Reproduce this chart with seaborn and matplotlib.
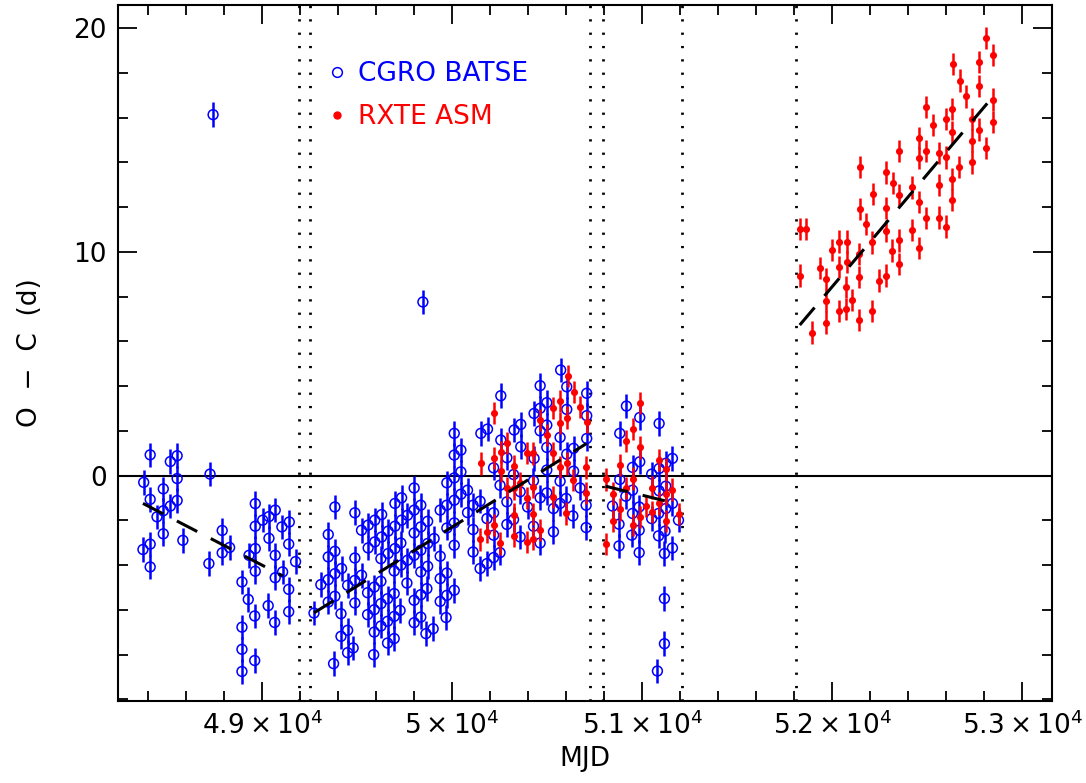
import matplotlib
matplotlib.use("Agg")
import matplotlib.pyplot as plt
from matplotlib.lines import Line2D
from matplotlib.ticker import FixedLocator, MultipleLocator, FuncFormatter
import pandas as pd
import seaborn as sns

# ---------------------------------------------------------------
# CGRO BATSE timings (MJD, O - C in days)
# ---------------------------------------------------------------
batse_mjd = [
    48377, 48411, 48411, 48373, 48411, 48411, 48447, 48480, 48480, 48480,
    48517, 48517, 48553, 48553, 48553, 48583, 48726, 48720, 48742, 48790,
    48790, 48829, 48894, 48894, 48894, 48894, 48927, 48931, 48964, 48964,
    48964, 48964, 48961, 48961, 49003, 49036, 49036, 49032, 49069, 49069,
    49069, 49066, 49104, 49108, 49143, 49140, 49140, 49140, 49176,
    49273, 49309, 49348, 49348, 49348, 49348, 49376, 49383, 49383, 49383,
    49383, 49418, 49415, 49415, 49450, 49450, 49450, 49479, 49488, 49488,
    49488, 49488, 49523, 49523, 49558, 49558, 49555, 49555, 49593, 49593,
    49590, 49590, 49590, 49587, 49629, 49629, 49625, 49625, 49625, 49625,
    49663, 49663, 49660, 49660, 49660, 49699, 49699, 49699, 49695, 49695,
    49695, 49695, 49734, 49734, 49730, 49730, 49726, 49765, 49765, 49762,
    49800, 49800, 49800, 49800, 49800, 49800, 49835, 49835, 49835, 49835,
    49835, 49835, 49846, 49871, 49871, 49871, 49867, 49862, 49900, 49905,
    49937, 49937, 49937, 49937, 49972, 49972, 49972, 49972, 49972, 49968,
    50011, 50011, 50011, 50011, 50011, 50011, 50011,
    50046, 50046, 50046, 50081, 50081, 50110, 50110, 50110, 50151, 50147,
    50147, 50186, 50183, 50183, 50218, 50218, 50218, 50218, 50256, 50256,
    50252, 50252, 50288, 50288, 50288, 50326, 50323, 50323, 50361, 50361,
    50358, 50358, 50397, 50431, 50431, 50428, 50428, 50463, 50463, 50463,
    50463, 50463, 50498, 50498, 50498, 50498, 50498, 50533, 50533, 50568,
    50568, 50568, 50571, 50603, 50603, 50603, 50600, 50639, 50639, 50635,
    50673, 50708, 50708, 50708, 50705, 50705,
    50917, 50882, 50882, 50878, 50878, 50844, 50914, 50949, 50949, 50949,
    50945, 50987, 50987, 50984, 50984, 50984, 51050, 51050, 51089, 51089,
    51089, 51086, 51086, 51080, 51124, 51124, 51124, 51120, 51117, 51117,
    51117, 51159, 51159, 51159, 51191,
]
batse_oc = [
    -0.30, 0.93, -1.06, -3.30, -3.06, -4.08, -1.84, -0.59, -1.57, -2.60,
    0.63, -1.36, 0.89, -0.13, -1.11, -2.89, 0.07, -3.93, 16.13, -2.45,
    -3.45, -3.21, -4.75, -6.77, -7.76, -8.75, -5.53, -3.56, -1.25, -2.26,
    -3.26, -4.27, -6.27, -8.26, -1.99, -1.83, -2.80, -5.81, -1.54, -3.56,
    -4.56, -6.56, -2.29, -4.30, -2.07, -3.06, -5.08, -6.08, -3.84,
    -6.14, -4.87, -2.63, -3.63, -4.65, -5.65, -8.40, -1.40, -3.38, -4.38,
    -5.39, -4.15, -6.17, -7.18, -4.90, -6.91, -7.91, -7.70, -1.66, -3.68,
    -4.68, -5.69, -2.44, -4.45, -2.21, -3.23, -5.23, -6.21, -1.99, -2.96,
    -4.98, -5.99, -6.99, -8.00, -1.74, -2.74, -3.71, -4.72, -5.72, -6.72,
    -2.48, -3.48, -5.50, -6.51, -7.48, -1.24, -2.26, -3.26, -4.26, -5.27,
    -6.29, -7.28, -0.99, -1.99, -3.01, -4.00, -6.02, -1.77, -3.78, -4.80,
    -0.55, -1.54, -2.56, -3.56, -5.57, -6.57, -1.32, -2.29, -3.33, -4.30,
    -5.32, -6.32, 7.76, -2.04, -3.03, -4.05, -5.05, -7.06, -6.84, -2.81,
    -1.54, -3.60, -4.60, -5.62, -0.32, -1.32, -2.34, -4.35, -5.35, -6.34,
    1.89, 0.92, -0.10, -1.10, -2.11, -3.11, -5.12,
    1.14, 0.17, -0.83, -0.65, -1.65, -1.32, -2.41, -3.41, 1.89, -1.14,
    -4.15, 2.08, -1.92, -3.93, -1.66, -2.66, -3.66, 0.35, 3.57, 1.59,
    -0.43, -3.44, 0.80, -1.17, -2.18, 2.04, 0.05, -1.96, 2.29, 1.29,
    -0.72, -2.74, -1.40, 2.78, 0.77, -0.23, -2.26, 4.02, 3.01, 2.00,
    -0.99, -3.01, 3.26, 2.26, 1.26, 0.25, -0.77, -2.51, -1.47, -0.25,
    -1.24, 1.71, 4.72, 3.97, 2.96, 0.96, -1.02, 1.22, 0.20, -1.80,
    -0.55, 3.68, 2.68, 1.66, -1.32, -2.32,
    3.11, 1.89, -0.17, -2.17, -3.14, -1.36, -0.92, 0.37, -0.65, -1.69,
    -2.66, 2.60, 0.62, -1.40, -2.44, -3.44, 0.07, -1.92, 2.33, 0.32,
    -0.68, -1.69, -2.69, -8.73, 0.55, -0.47, -1.47, -2.48, -3.48, -5.49,
    -7.51, 0.77, -1.24, -3.23, -1.99,
]

# ---------------------------------------------------------------
# RXTE ASM timings (MJD, O - C in days)
# ---------------------------------------------------------------
asm_mjd = [
    50151, 50147, 50183, 50221, 50221, 50218, 50252, 50256, 50256, 50291,
    50291, 50323, 50323, 50323, 50323, 50358, 50393, 50393, 50393, 50428,
    50428, 50428, 50428, 50463, 50463, 50498, 50533, 50533, 50533, 50568,
    50568, 50568, 50607, 50603, 50603, 50600, 50639, 50635, 50673, 50708,
    50705, 50705,
    50807, 50807, 50844, 50844, 50882, 50882, 50917, 50914, 50952, 50952,
    50952, 50987, 50987, 50987, 51019, 51054, 51054, 51089, 51089, 51124,
    51124, 51124, 51159, 51194,
    51829, 51864, 51829, 51896, 51934, 51966, 51966, 51966, 52001, 52036,
    52036, 52036, 52075, 52075, 52071, 52071, 52106, 52144, 52144, 52141,
    52141, 52141, 52180, 52214, 52211, 52208, 52246, 52285, 52285, 52281,
    52281, 52320, 52316, 52351, 52351, 52351, 52351,
    52422, 52422, 52456, 52456, 52456, 52456, 52492, 52492, 52495, 52530,
    52561, 52561, 52561, 52597, 52597, 52597, 52632, 52632, 52632, 52632,
    52635, 52670, 52667, 52706, 52737, 52737, 52737, 52772, 52772, 52772,
    52807, 52811, 52846, 52846, 52846,
]
asm_oc = [
    0.55, -2.85, -2.51, 2.81, 0.80, -2.21, -3.03, 1.06, 0.20, 1.47,
    -0.55, 0.44, -0.57, -1.74, -2.69, -0.35, 1.02, -0.99, -2.96, 0.99,
    -0.50, -1.72, -2.81, 2.48, -2.44, 1.81, 3.01, 0.99, -0.95, 3.33,
    2.36, 0.39, 4.45, 2.59, 0.55, -1.69, 3.75, -0.20, 3.08, 2.41,
    0.37, -0.77,
    -0.17, -3.06, -0.80, -2.02, 0.47, -1.51, 1.54, -0.55, 2.08, -0.13,
    -2.21, 3.26, 1.26, -1.84, -1.36, -0.53, -1.62, 0.69, -1.24, 0.28,
    -0.80, -2.02, -0.62, -1.72,
    11.02, 11.02, 8.94, 6.39, 9.27, 8.78, 7.82, 6.84, 10.09, 10.46,
    9.32, 7.37, 10.46, 9.54, 8.42, 7.44, 7.85, 13.79, 11.92, 9.90,
    8.87, 6.96, 11.25, 12.58, 10.42, 7.36, 8.72, 13.55, 11.96, 10.94,
    8.94, 13.07, 10.06, 14.52, 12.55, 10.51, 9.45,
    12.88, 10.98, 15.09, 14.19, 12.22, 10.17, 14.52, 11.51, 16.46, 15.68,
    14.42, 13.00, 11.53, 15.95, 14.22, 11.13, 16.39, 15.34, 13.25, 12.33,
    18.40, 17.65, 13.79, 16.95, 15.95, 14.97, 14.00, 18.49, 17.40, 15.46,
    14.64, 19.56, 18.81, 16.80, 15.79,
]

batse_err = 0.55
asm_err = 0.5

# linear ephemeris fits per interval: (start MJD, end MJD, start O-C, end O-C)
fit_start = [48373, 49273, 50807, 51829]
fit_end = [49109, 50708, 51194, 52837]
fit_oc_start = [-1.24, -6.13, -0.47, 6.73]
fit_oc_end = [-4.48, 1.44, -1.28, 16.85]

# interval boundaries
boundaries = [49192, 49253, 50723, 50794, 51208, 51808]

batse = pd.DataFrame({"MJD": batse_mjd, "OC": batse_oc})
asm = pd.DataFrame({"MJD": asm_mjd, "OC": asm_oc})

sns.set_style("ticks")
plt.rcParams["font.family"] = ["DejaVu Sans"]
plt.rcParams["mathtext.fontset"] = "dejavusans"

fig = plt.figure(figsize=(10.86, 7.83), dpi=100)
ax = fig.add_axes([0.1087, 0.105, 0.8603, 0.8886])

blue = "#0000ff"
red = "#ff0000"

ax.axhline(0, color="black", lw=1.5, zorder=1)
for b in boundaries:
    ax.axvline(b, color="black", lw=2.0, ls=(0, (0.8, 4.0)), zorder=1)

ax.errorbar(batse["MJD"], batse["OC"], yerr=batse_err, fmt="none",
            ecolor=blue, elinewidth=1.8, capsize=0, zorder=2)
sns.scatterplot(data=batse, x="MJD", y="OC", ax=ax, marker="o",
                s=50, facecolor="none", edgecolor=blue, linewidth=1.1,
                zorder=3)
ax.errorbar(asm["MJD"], asm["OC"], yerr=asm_err, fmt="none",
            ecolor=red, elinewidth=1.8, capsize=0, zorder=4)
sns.scatterplot(data=asm, x="MJD", y="OC", ax=ax, marker="o",
                s=26, color=red, edgecolor=red, linewidth=0, zorder=5)

for x0, x1, y0, y1 in zip(fit_start, fit_end, fit_oc_start, fit_oc_end):
    ax.plot([x0, x1], [y0, y1], color="black", lw=2.2,
            ls=(0, (7.5, 5)), zorder=6)

ax.set_xlim(48242, 53158)
ax.set_ylim(-10.06, 21.03)

ax.xaxis.set_major_locator(FixedLocator([49000, 50000, 51000, 52000, 53000]))
ax.xaxis.set_minor_locator(MultipleLocator(200))
ax.xaxis.set_major_formatter(FuncFormatter(
    lambda v, p: r"$%g\times10^{4}$" % (v / 1e4)))
ax.yaxis.set_major_locator(FixedLocator([0, 10, 20]))
ax.yaxis.set_minor_locator(MultipleLocator(2))

ax.tick_params(which="both", direction="in", top=True, right=True,
               width=1.3, colors="black", labelsize=19, pad=8)
ax.tick_params(which="major", length=14)
ax.tick_params(which="minor", length=7)
for sp in ax.spines.values():
    sp.set_linewidth(1.5)
    sp.set_color("black")

ax.set_xlabel("MJD", fontsize=19, labelpad=4, color="black")
ax.set_ylabel("O  −  C  (d)", fontsize=19, labelpad=22, color="black")

handles = [
    Line2D([], [], ls="none", marker="o", markersize=7, mfc="none",
           mec=blue, mew=1.1, color=blue),
    Line2D([], [], ls="none", marker="o", markersize=5, mfc=red,
           mec=red, color=red),
]
ax.legend(handles, ["CGRO BATSE", "RXTE ASM"], loc="upper left",
          bbox_to_anchor=(0.200, 0.953), frameon=False, fontsize=19,
          handlelength=0.6, handletextpad=0.5, labelspacing=0.62,
          labelcolor="linecolor")

fig.savefig("out.png", dpi=100)
